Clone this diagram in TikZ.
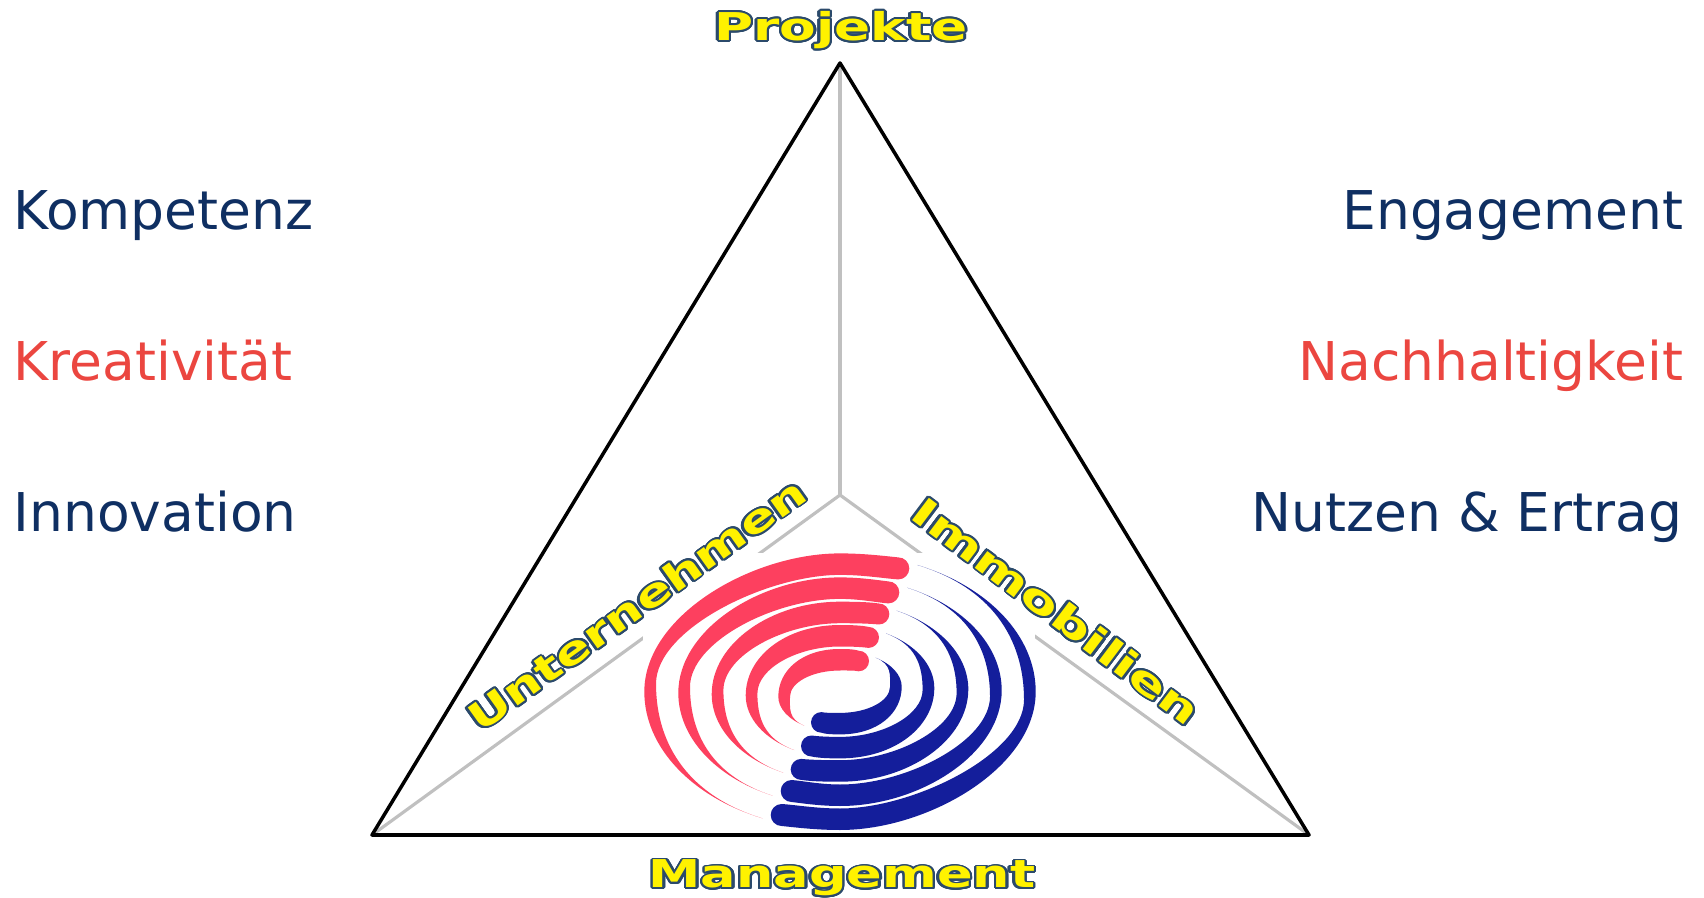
\documentclass[tikz,border=0pt]{standalone}
\usepackage{fontspec}
\setmainfont{DejaVu Sans}
\usepackage{graphicx}
\usepackage{contour}
\contourlength{0.5pt}
\contournumber{24}
\definecolor{navyText}{HTML}{0F2F62}
\definecolor{redText}{HTML}{EB4640}
\definecolor{spiralRed}{HTML}{FD405F}
\definecolor{spiralBlue}{HTML}{141E9B}
\definecolor{spokeGray}{HTML}{C0C0C0}
\definecolor{labelEdge}{HTML}{2B4A6B}
\newcommand{\cornerLabel}[2][1.37]{\scalebox{#1}[1]{\textcolor{yellow}{\contour{labelEdge}{\textbf{#2}}}}}
% rx, ry, head x, head y, head radius, tail x, tail y
\newcommand{\spiralBand}[7]{
  \pgfmathsetmacro{\yOut}{-5*(195.7-#1)/134.7}
  \pgfmathsetmacro{\yIn}{-5+13*(#1-61.7)/134}
  \pgfmathsetmacro{\rxIn}{#1-11.7}
  \pgfmathsetmacro{\ryIn}{#2-21.5}
  \pgfmathsetmacro{\kOut}{0.62-0.17*(#1-61.7)/134}
  \pgfmathsetmacro{\kIn}{0.55-0.15*(#1-61.7)/134}
  \pgfmathsetmacro{\kSide}{0.55-0.05*(#1-61.7)/134}
  % lower part, left side down to the tail
  \pgfmathsetmacro{\angOut}{acos(-#6/#1)}
  \pgfmathsetmacro{\bOut}{(\yOut-#7)/sin(\angOut)}
  \pgfmathsetmacro{\hOut}{4/3*tan(\angOut/4)}
  \pgfmathsetmacro{\tailX}{#6-\hOut*#1*sin(\angOut)}
  \pgfmathsetmacro{\tailY}{#7+\hOut*\bOut*cos(\angOut)}
  \fill (#6,#7) .. controls (\tailX,\tailY) and ({-#1},{\yOut-\hOut*\bOut}) .. ({-#1},\yOut)
  .. controls ({-#1},{\yOut+0.55*(#2-\yOut)}) and ({-\kOut*#1},#2) .. (0,#2)
  .. controls ({0.4*#3},#2) and ({0.75*#3},{#4+#5+1.5}) .. (#3,{#4+#5})
  arc[start angle=90,end angle=-90,radius=#5]
  .. controls ({0.75*#3},{#4-#5+1}) and ({0.4*#3},\ryIn) .. (0,\ryIn)
  .. controls ({-\kIn*\rxIn},\ryIn) and ({-\rxIn},{\yIn+\kSide*(\ryIn-\yIn)}) .. ({-\rxIn},\yIn)
  .. controls ({-\rxIn},{\yOut-\hOut*\bOut}) and (\tailX,\tailY) .. (#6,#7) -- cycle;
}
\newcommand{\spiralHalf}{
  \spiralBand{195.7}{138.3}{58.3}{123.3}{11}{-77.3}{-126.7}
  \spiralBand{161.7}{114.3}{48.3}{99.3}{11}{-67.3}{-104}
  \spiralBand{128.3}{90}{38.8}{77.7}{10.5}{-56.7}{-81}
  \spiralBand{94.3}{66.7}{28.5}{54.3}{10.5}{-46}{-58.3}
  \spiralBand{61.7}{42.7}{18.7}{30.7}{10.3}{-35.7}{-34}
}
\tikzset{
  spoke/.style={color=spokeGray,line width=0.9pt},
  frame/.style={line width=1pt,line join=round},
  sideWord/.style={font=\fontsize{15.2pt}{18pt}\selectfont,inner sep=0pt},
  cornerWord/.style={font=\fontsize{10.9pt}{13pt}\selectfont,inner sep=0pt}
}

\begin{document}
\begin{tikzpicture}[x=0.01cm,y=0.01cm]
  \useasboundingbox (0,0) rectangle (1704,897);
  \coordinate (apex) at (840,834);
  \coordinate (baseleft) at (372,62);
  \coordinate (baseright) at (1309,62);
  \coordinate (middle) at (840,402);
  \draw[spoke] (middle) -- (apex);
  \draw[spoke] (middle) -- (baseleft);
  \draw[spoke] (middle) -- (baseright);
  \draw[frame] (apex) -- (baseleft) -- (baseright) -- cycle;
  \fill[white] (643,65) rectangle (1035,344);
  \begin{scope}[shift={(840,205.3)},spiralRed]
    \spiralHalf
  \end{scope}
  \begin{scope}[shift={(840,205.3)},rotate=180,spiralBlue]
    \spiralHalf
  \end{scope}
  \node[cornerWord] (projekte) at (841,866) {\cornerLabel[1.39]{Projekte}};
  \node[cornerWord] (management) at (842,18) {\cornerLabel{Management}};
  \node[cornerWord,rotate=35.5] (unternehmen) at (637,292) {\cornerLabel{Unternehmen}};
  \node[cornerWord,rotate=-37] (immobilien) at (1056,285) {\cornerLabel[1.45]{Immobilien}};
  \node[sideWord,anchor=base west,navyText] (kompetenz) at (13,667) {Kompetenz};
  \node[sideWord,anchor=base west,redText] (kreativitaet) at (13,516) {Kreativität};
  \node[sideWord,anchor=base west,navyText] (innovation) at (13,365) {Innovation};
  \node[sideWord,anchor=base east,navyText] (engagement) at (1684,667) {Engagement};
  \node[sideWord,anchor=base east,redText] (nachhaltigkeit) at (1684,516) {Nachhaltigkeit};
  \node[sideWord,anchor=base east,navyText] (nutzen) at (1683,365) {Nutzen \& Ertrag};
\end{tikzpicture}
\end{document}
